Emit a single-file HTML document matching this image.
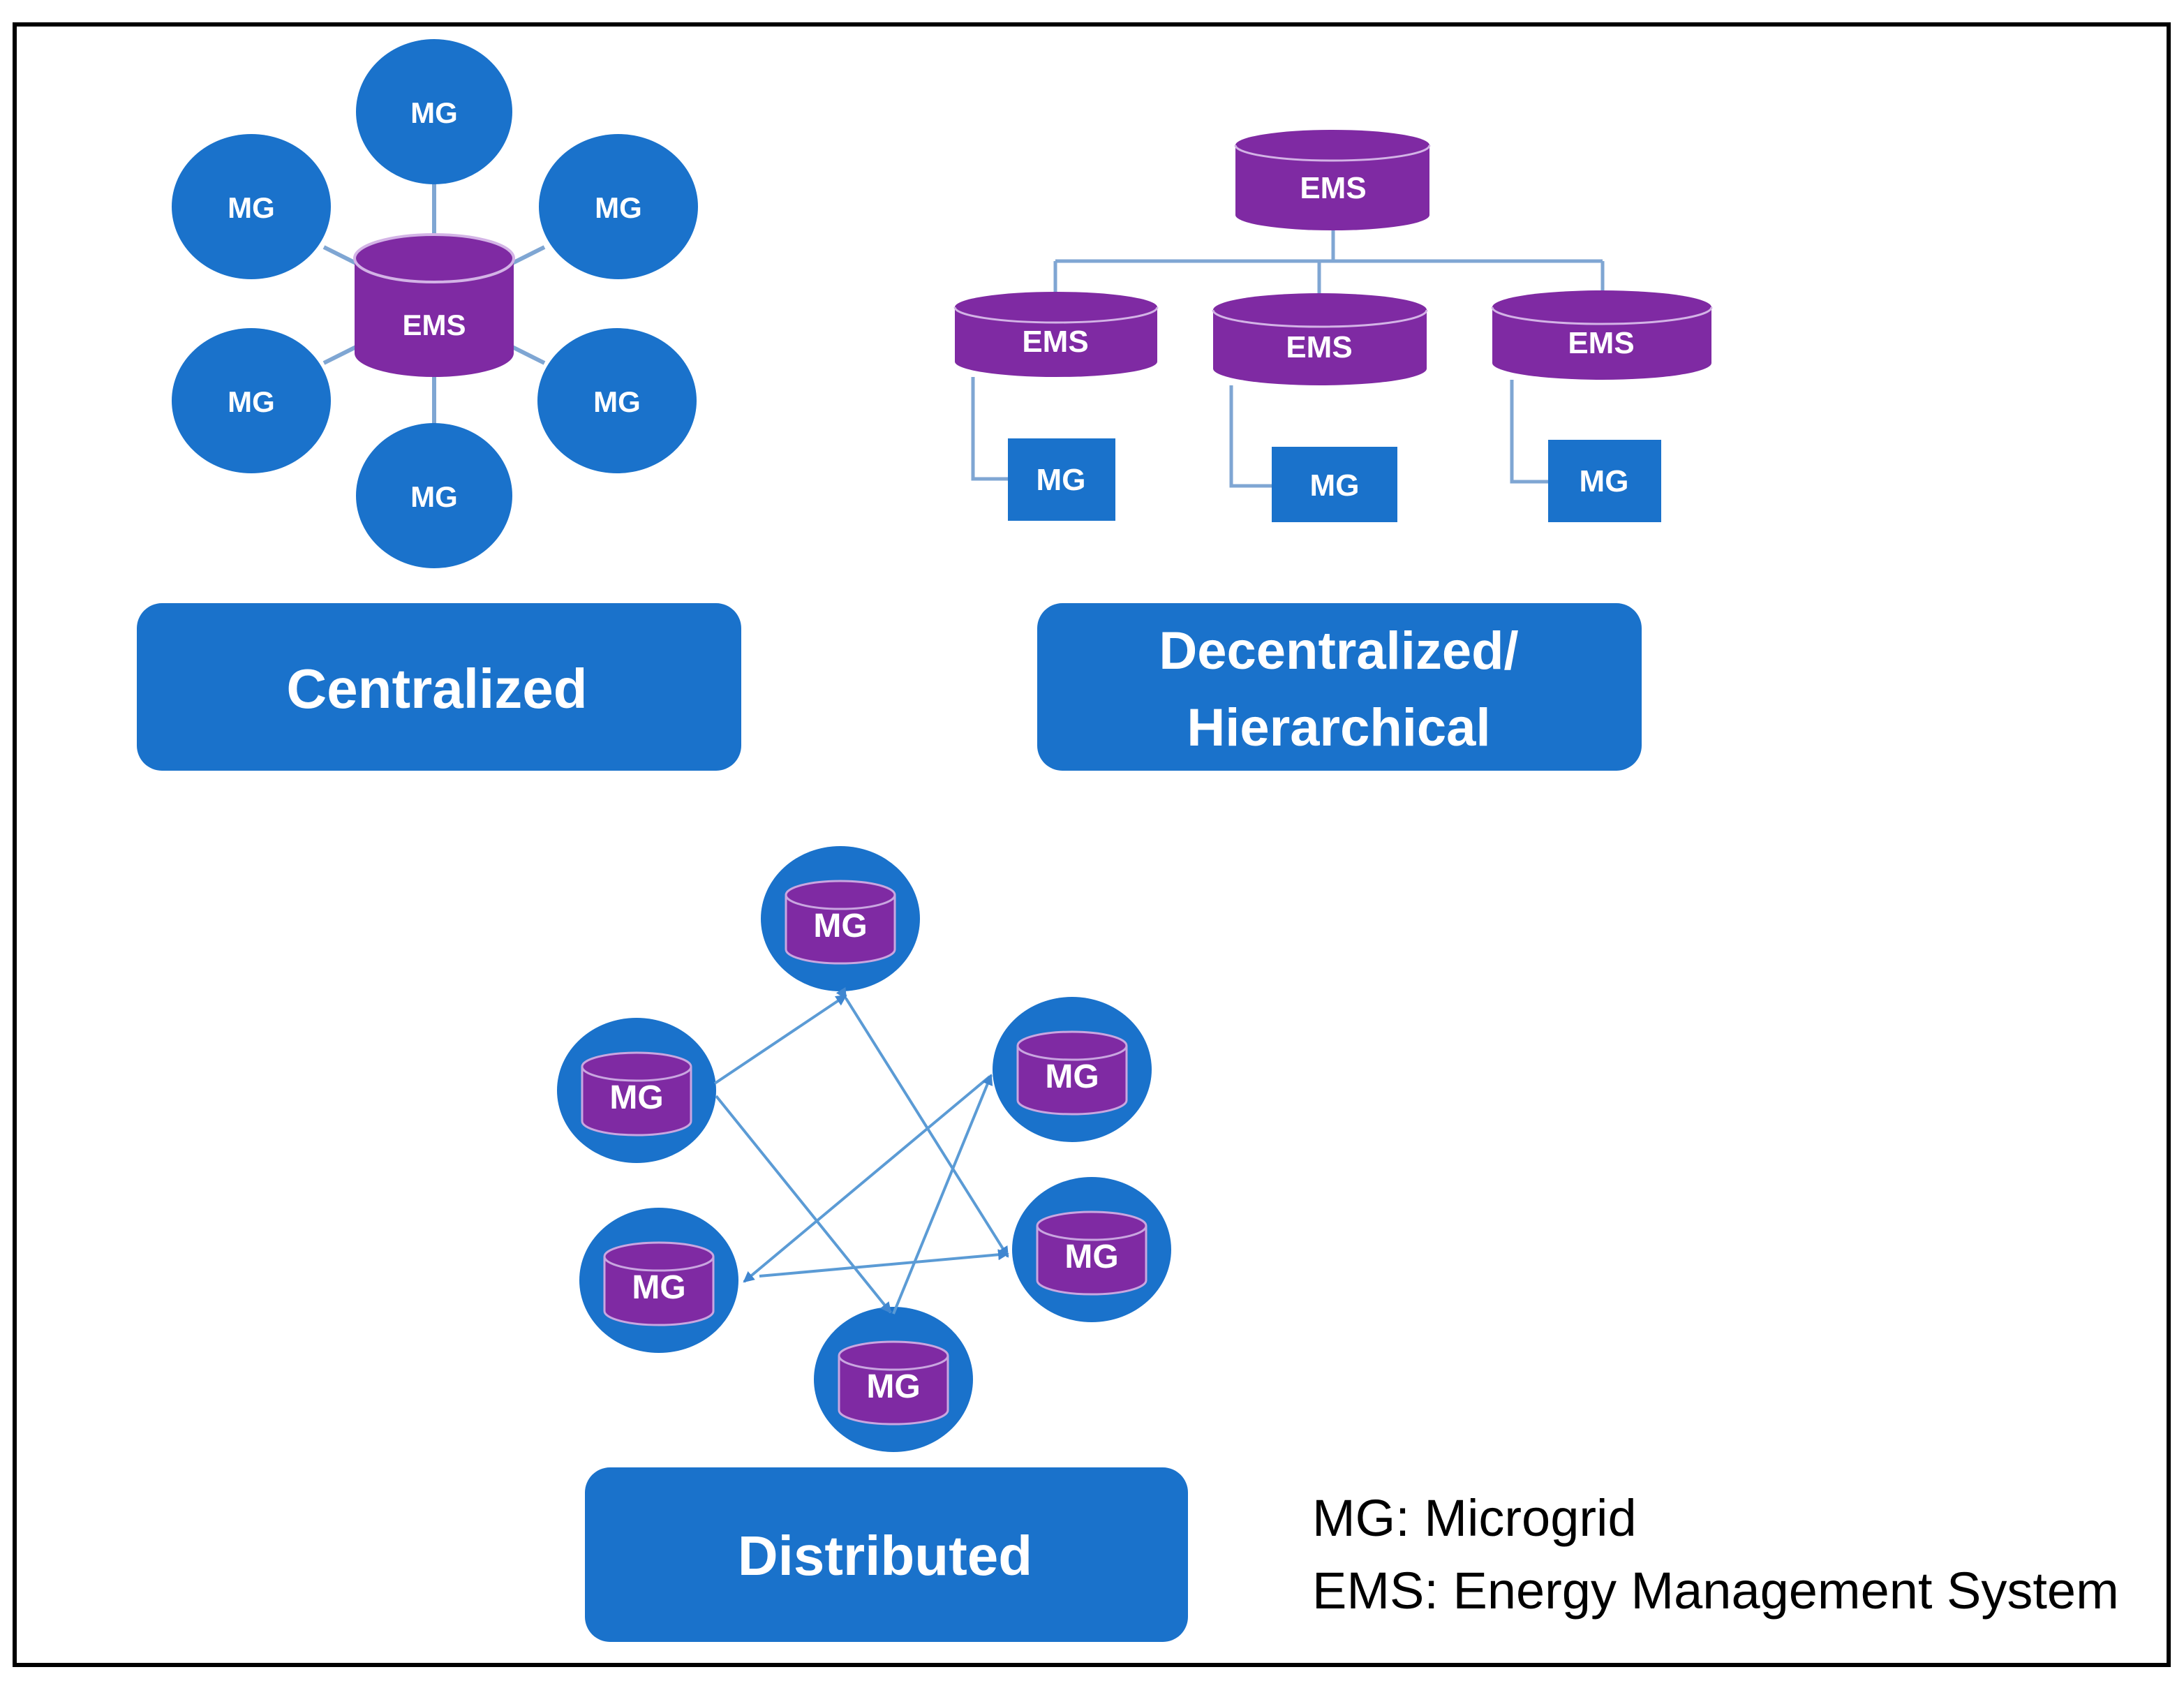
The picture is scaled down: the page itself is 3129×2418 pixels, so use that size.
<!DOCTYPE html>
<html><head><meta charset="utf-8"><style>
html,body{margin:0;padding:0;background:#fff;}
svg{display:block;}
text{font-family:"Liberation Sans",sans-serif;}
</style></head><body>
<svg width="3129" height="2418" viewBox="0 0 1564.5 1209" xmlns="http://www.w3.org/2000/svg">
<defs>
<marker id="ah" markerWidth="8" markerHeight="8" refX="7" refY="4" orient="auto" markerUnits="userSpaceOnUse">
<path d="M0,0 L8,4 L0,8 Z" fill="#3f86d0"/></marker>
</defs>
<rect x="0" y="0" width="1564.5" height="1209" fill="#fff"/>
<rect x="10.5" y="17.5" width="1543" height="1175" fill="none" stroke="#000" stroke-width="3"/>

<!-- Centralized -->
<g stroke="#7fa6d3" stroke-width="3">
<line x1="311" y1="130" x2="311" y2="170"/>
<line x1="311" y1="268" x2="311" y2="305"/>
<line x1="232" y1="177" x2="258" y2="190"/>
<line x1="390" y1="177" x2="364" y2="190"/>
<line x1="232" y1="260" x2="258" y2="247"/>
<line x1="390" y1="260" x2="364" y2="247"/>
</g>
<g fill="#1a72cb">
<ellipse cx="311" cy="80" rx="56" ry="52"/>
<ellipse cx="180" cy="148" rx="57" ry="52"/>
<ellipse cx="443" cy="148" rx="57" ry="52"/>
<ellipse cx="180" cy="287" rx="57" ry="52"/>
<ellipse cx="442" cy="287" rx="57" ry="52"/>
<ellipse cx="311" cy="355" rx="56" ry="52"/>
</g>
<g fill="#fff" font-size="21" text-anchor="middle" font-weight="bold">
<text x="311" y="88">MG</text><text x="180" y="156">MG</text><text x="443" y="156">MG</text>
<text x="180" y="295">MG</text><text x="442" y="295">MG</text><text x="311" y="363">MG</text>
</g>
<path d="M254,185 A57,17 0 0 1 368,185 V253 A57,17 0 0 1 254,253 Z" fill="#7f2aa3"/>
<ellipse cx="311" cy="185" rx="57" ry="17" fill="none" stroke="#d3b3e6" stroke-width="2"/>
<text x="311" y="240" fill="#fff" font-size="21" text-anchor="middle" font-weight="bold">EMS</text>

<rect x="98" y="432" width="433" height="120" rx="18" fill="#1a72cb"/>
<text x="313" y="507" fill="#fff" font-size="40" text-anchor="middle" font-weight="bold">Centralized</text>

<!-- Hierarchical -->
<g fill="none" stroke="#7fa6d3" stroke-width="2.5">
<path d="M955,160 V187 M756,187 H1148 M756,187 V212 M945,187 V214 M1148,187 V212"/>
<path d="M697,270 V343 H722"/>
<path d="M882,276 V348 H911"/>
<path d="M1083,272 V345 H1109"/>
</g>
<g fill="#7f2aa3">
<path d="M885,104 A69.5,11 0 0 1 1024,104 V154 A69.5,11 0 0 1 885,154 Z"/>
<path d="M684,220 A72.5,11 0 0 1 829,220 V259 A72.5,11 0 0 1 684,259 Z"/>
<path d="M869,222 A76.5,12 0 0 1 1022,222 V264 A76.5,12 0 0 1 869,264 Z"/>
<path d="M1069,220 A78.5,12 0 0 1 1226,220 V260 A78.5,12 0 0 1 1069,260 Z"/>
</g>
<g fill="none" stroke="#d3b3e6" stroke-width="1.5">
<path d="M885,104 A69.5,11 0 0 0 1024,104"/>
<path d="M684,220 A72.5,11 0 0 0 829,220"/>
<path d="M869,222 A76.5,12 0 0 0 1022,222"/>
<path d="M1069,220 A78.5,12 0 0 0 1226,220"/>
</g>
<g fill="#fff" font-size="22" text-anchor="middle" font-weight="bold">
<text x="955" y="142">EMS</text><text x="756" y="252">EMS</text><text x="945" y="256">EMS</text><text x="1147" y="253">EMS</text>
</g>
<g fill="#1a72cb">
<rect x="722" y="314" width="77" height="59"/>
<rect x="911" y="320" width="90" height="54"/>
<rect x="1109" y="315" width="81" height="59"/>
</g>
<g fill="#fff" font-size="22" text-anchor="middle" font-weight="bold">
<text x="760" y="351">MG</text><text x="956" y="355">MG</text><text x="1149" y="352">MG</text>
</g>
<rect x="743" y="432" width="433" height="120" rx="18" fill="#1a72cb"/>
<text x="959" y="479" fill="#fff" font-size="38" text-anchor="middle" font-weight="bold">Decentralized/</text>
<text x="959" y="534" fill="#fff" font-size="38" text-anchor="middle" font-weight="bold">Hierarchical</text>

<!-- Distributed -->
<g fill="#1a72cb">
<ellipse cx="602" cy="658" rx="57" ry="52"/>
<ellipse cx="456" cy="781" rx="57" ry="52"/>
<ellipse cx="768" cy="766" rx="57" ry="52"/>
<ellipse cx="472" cy="917" rx="57" ry="52"/>
<ellipse cx="782" cy="895" rx="57" ry="52"/>
<ellipse cx="640" cy="988" rx="57" ry="52"/>
</g>
<g id="cyls">
<g fill="#7f2aa3" stroke="#c9a6e0" stroke-width="1.5">
<path d="M563,641 A39,10 0 0 1 641,641 V680 A39,10 0 0 1 563,680 Z"/>
<path d="M417,764 A39,10 0 0 1 495,764 V803 A39,10 0 0 1 417,803 Z"/>
<path d="M729,749 A39,10 0 0 1 807,749 V788 A39,10 0 0 1 729,788 Z"/>
<path d="M433,900 A39,10 0 0 1 511,900 V939 A39,10 0 0 1 433,939 Z"/>
<path d="M743,878 A39,10 0 0 1 821,878 V917 A39,10 0 0 1 743,917 Z"/>
<path d="M601,971 A39,10 0 0 1 679,971 V1010 A39,10 0 0 1 601,1010 Z"/>
</g>
<g fill="none" stroke="#c9a6e0" stroke-width="1.5">
<path d="M563,641 A39,10 0 0 0 641,641"/>
<path d="M417,764 A39,10 0 0 0 495,764"/>
<path d="M729,749 A39,10 0 0 0 807,749"/>
<path d="M433,900 A39,10 0 0 0 511,900"/>
<path d="M743,878 A39,10 0 0 0 821,878"/>
<path d="M601,971 A39,10 0 0 0 679,971"/>
</g>
</g>
<g fill="#fff" font-size="24" text-anchor="middle" font-weight="bold">
<text x="602" y="671">MG</text><text x="456" y="794">MG</text><text x="768" y="779">MG</text>
<text x="472" y="930">MG</text><text x="782" y="908">MG</text><text x="640" y="1001">MG</text>
</g>
<g stroke="#5b9bd5" stroke-width="2" fill="none">
<line x1="512" y1="776" x2="606" y2="713" marker-end="url(#ah)"/>
<line x1="513" y1="785" x2="638" y2="940" marker-end="url(#ah)"/>
<line x1="606" y1="715" x2="722" y2="900" marker-end="url(#ah)" marker-start="url(#ah)"/>
<line x1="709" y1="771" x2="533" y2="918" marker-end="url(#ah)"/>
<line x1="640" y1="941" x2="710" y2="770" marker-end="url(#ah)"/>
<line x1="544" y1="914" x2="722" y2="898" marker-end="url(#ah)"/>
</g>
<rect x="419" y="1051" width="432" height="125" rx="18" fill="#1a72cb"/>
<text x="634" y="1128" fill="#fff" font-size="40" text-anchor="middle" font-weight="bold">Distributed</text>

<text x="940" y="1100" fill="#000" font-size="37">MG: Microgrid</text>
<text x="940" y="1152" fill="#000" font-size="37">EMS: Energy Management System</text>
</svg>
</body></html>
